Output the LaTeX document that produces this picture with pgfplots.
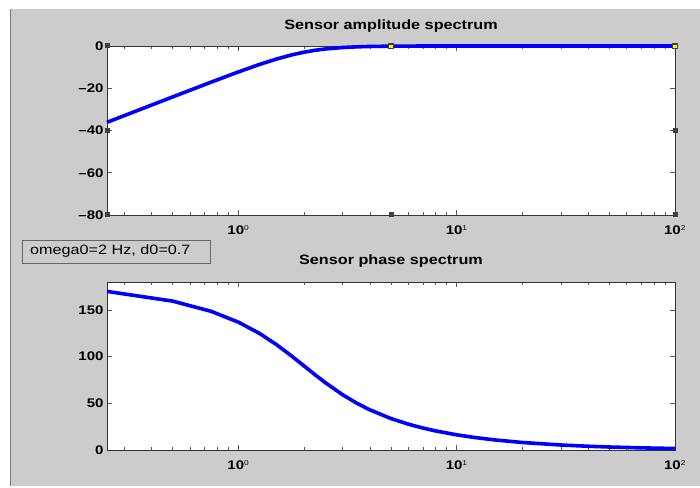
\documentclass[border=0pt]{standalone}
\usepackage{pgfplots}
\pgfplotsset{compat=1.18}
\usepackage{fontspec}
\setmainfont{Liberation Sans}
\newfontfamily\mlfont[FakeStretch=1.2]{Liberation Sans}
\definecolor{figgray}{RGB}{204,204,204}
\definecolor{edgeblue}{RGB}{120,120,150}
\definecolor{mlblue}{RGB}{0,0,255}
\pgfplotsset{every axis/.append style={
    scale only axis, width=568pt,
    axis background/.style={fill=white},
    axis line style={color=black!80, line width=0.8pt},
    tick align=inside,
    major tick length=5pt, minor tick length=3pt,
    tick style={black!65, line width=0.6pt},
    tick label style={font=\mlfont\bfseries\fontsize{12.5}{13}\selectfont},
    xticklabel style={anchor=base, yshift=-19.5pt},
    title style={font=\mlfont\bfseries\fontsize{13.5}{14}\selectfont, at={(0.5,1)}, anchor=base},
    /pgf/number format/assume math mode=true,
}}
\begin{document}
\begin{tikzpicture}[x=1pt,y=1pt]
\fill[white] (0,0) rectangle (700,487);
\fill[figgray] (11,1) rectangle (700,478);
\draw[color=edgeblue, line width=1.2pt] (10.6,1) -- (10.6,478);

% top axis
\begin{axis}[name=top, at={(107pt,272pt)}, anchor=south west, height=169pt,
  xmode=log, xmin=0.25, xmax=100,
  xtick={1,10,100},
  xticklabels={10\textsuperscript{\mdseries\scriptsize 0},10\textsuperscript{\mdseries\scriptsize 1},10\textsuperscript{\mdseries\scriptsize 2}},
  minor xtick={0.3,0.4,0.5,0.6,0.7,0.8,0.9,2,3,4,5,6,7,8,9,20,30,40,50,60,70,80,90},
  ymin=-80, ymax=0, ytick={-80,-60,-40,-20,0},
  yticklabels={\textendash80,\textendash60,\textendash40,\textendash20,0},
  title={Sensor amplitude spectrum}, title style={yshift=10pt}, clip=false]
\addplot[mlblue, line width=3.6pt] coordinates {
(0.25,-36.12) (0.5,-24.09) (0.75,-17.10) (1,-12.26) (1.25,-8.72) (1.5,-6.12)
(1.75,-4.24) (2,-2.92) (2.25,-2.02) (2.5,-1.41) (3,-0.72) (3.5,-0.39)
(4,-0.22) (5,-0.08) (6,-0.03) (8,-0.01) (10,0) (100,0)
};
\end{axis}

% selection handles of the top axis
\foreach \a in {south west, west, north west, south, south east, east}{
  \fill[black!75] (top.\a) ++(-2.5,-2.5) rectangle ++(5,5);
}
\foreach \a in {north, north east}{
  \fill[black!75] (top.\a) ++(-3,-3) rectangle ++(6,6);
  \fill[yellow] (top.\a) ++(-2,-2.5) rectangle ++(4,3);
}

% bottom axis
\begin{axis}[at={(107pt,37pt)}, anchor=south west, height=168pt,
  xmode=log, xmin=0.25, xmax=100,
  xtick={1,10,100},
  xticklabels={10\textsuperscript{\mdseries\scriptsize 0},10\textsuperscript{\mdseries\scriptsize 1},10\textsuperscript{\mdseries\scriptsize 2}},
  minor xtick={0.3,0.4,0.5,0.6,0.7,0.8,0.9,2,3,4,5,6,7,8,9,20,30,40,50,60,70,80,90},
  ymin=0, ymax=180, ytick={0,50,100,150},
  title={Sensor phase spectrum}, title style={yshift=11pt}]
\addplot[mlblue, line width=3.6pt] coordinates {
(0.25,169.92) (0.5,159.53) (0.75,148.58) (1,136.97) (1.25,124.86) (1.5,112.62)
(1.75,100.83) (2,90) (2.25,80.43) (2.5,72.18) (3,59.24) (3.5,49.91)
(4,43.03) (5,33.69) (6,27.70) (7,23.54) (8,20.47) (10,16.26) (12,13.50)
(15,10.76) (20,8.05) (30,5.36) (40,4.01) (50,3.21) (70,2.29) (100,1.60)
};
\end{axis}

% annotation box
\draw[black!60, fill=figgray, line width=0.8pt] (22,224) rectangle (210,247);
\node[anchor=west, inner sep=0pt, font=\mlfont\fontsize{13.5}{14}\selectfont] at (30,235.5) {omega0=2 Hz, d0=0.7};
\end{tikzpicture}
\end{document}
